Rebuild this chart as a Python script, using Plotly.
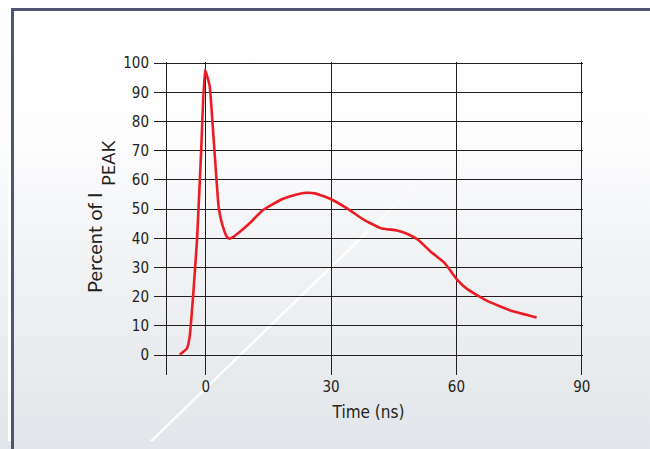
import base64
import plotly.graph_objects as go

# ---- data ----
time_ns = [-6.2, -4.5, -3.85, -3.1, -2.1, -1.1, -0.2, 0.9, 1.9, 3.06, 3.66, 4.35, 5.0,
           5.6, 6.5, 7.8, 10.3, 13.7, 18.2, 21.1, 24.1, 26.1, 30.0, 34.0, 37.9, 41.9,
           45.8, 48.3, 50.8, 53.8, 57.2, 60.2, 62.6, 67.6, 73.5, 79.2]
percent_peak = [0.2, 2.3, 6.5, 19.0, 39.5, 70.2, 97.7, 92.4, 73.6, 50.9, 46.3, 42.9, 40.6,
                39.9, 40.4, 41.8, 44.9, 49.7, 53.4, 54.8, 55.6, 55.4, 53.4, 50.1, 46.3, 43.5,
                42.7, 41.5, 39.5, 35.5, 31.5, 25.8, 22.6, 18.4, 15.0, 12.9]

x_tickvals = [0, 30, 60, 90]
x_ticktext = ["0", "30", "60", "90"]
x_leftline = [-9.3]
y_tickvals = [0, 10, 20, 30, 40, 50, 60, 70, 80, 90, 100]
y_ticktext = [str(v) for v in y_tickvals]

# page body has an 8px margin on every side; size the figure so the page does not overflow
OFF = 8
W, H = 650 - 2 * OFF, 449 - 2 * OFF
L, T = 154 - OFF, 62 - OFF
pw, ph = 429, 313
R, B = W - L - pw, H - T - ph

def px_x(ref_px):  # reference window pixel -> paper x
    return (ref_px - OFF - L) / pw

def px_y(ref_py):  # reference window pixel -> paper y
    return 1 - (ref_py - OFF - T) / ph

frame_col = "#4e5672"
stops = "#ffffff 0%, #fdfdfe 30%, #f0f2f4 60%, #e2e5e9 100%"

# background: white page, light vertical gradient inside the frame, faint diagonal streak
svg = f"""<svg xmlns='http://www.w3.org/2000/svg' width='{W}' height='{H}' viewBox='0 0 {W} {H}'>
<defs>
<linearGradient id='g' x1='0' y1='{-OFF}' x2='0' y2='{H + OFF}' gradientUnits='userSpaceOnUse'>
<stop offset='0' stop-color='#ffffff'/>
<stop offset='0.3' stop-color='#fdfdfe'/>
<stop offset='0.6' stop-color='#f0f2f4'/>
<stop offset='1' stop-color='#e2e5e9'/>
</linearGradient>
<linearGradient id='s' x1='135' y1='441' x2='415' y2='170' gradientUnits='userSpaceOnUse'>
<stop offset='0' stop-color='#ffffff' stop-opacity='0.95'/>
<stop offset='0.8' stop-color='#ffffff' stop-opacity='0.85'/>
<stop offset='1' stop-color='#ffffff' stop-opacity='0'/>
</linearGradient>
</defs>
<rect x='0' y='0' width='{W}' height='{H}' fill='url(#g)'/>
<rect x='0' y='0' width='{W}' height='1' fill='#ffffff'/>
<rect x='0' y='0' width='4' height='{H}' fill='#ffffff'/>
<line x1='135' y1='441' x2='415' y2='170' stroke='url(#s)' stroke-width='2.5'/>
</svg>"""
src = "data:image/svg+xml;base64," + base64.b64encode(svg.encode()).decode()

narrow = "Liberation Sans Narrow, DejaVu Sans Condensed, sans-serif"
ink = "#231f20"

fig = go.Figure()
fig.add_trace(go.Scatter(
    x=time_ns, y=percent_peak, mode="lines",
    line=dict(color="#ec1c24", width=2.6, shape="spline", smoothing=0.4),
    hoverinfo="skip", showlegend=False,
))
fig.add_trace(go.Scatter(x=[], y=[], xaxis="x2", hoverinfo="skip", showlegend=False))

frame_path = (f"M {px_x(12.5)},{px_y(470)} L {px_x(12.5)},{px_y(9.5)} L {px_x(680)},{px_y(9.5)}")

fig.update_layout(
    width=W, height=H,
    margin=dict(l=L, r=R, t=T, b=B),
    paper_bgcolor="rgba(0,0,0,0)",
    plot_bgcolor="rgba(0,0,0,0)",
    images=[dict(source=src, xref="paper", yref="paper",
                 x=-L / pw, y=1 + T / ph, sizex=W / pw, sizey=H / ph,
                 xanchor="left", yanchor="top", sizing="stretch", layer="below")],
    shapes=[dict(type="path", path=frame_path, xref="paper", yref="paper",
                 line=dict(color=frame_col, width=3), layer="below")],
    xaxis=dict(
        range=[-12.4, 90.3], tickvals=x_tickvals, ticktext=x_ticktext,
        showgrid=True, gridcolor=ink, gridwidth=1.3,
        zeroline=False, showline=False, ticks="", ticklabelstandoff=1,
        tickfont=dict(family=narrow, size=15, color=ink),
        title=dict(text="Time (ns)", font=dict(family=narrow, size=17, color=ink), standoff=11),
        fixedrange=True,
    ),
    xaxis2=dict(
        range=[-12.4, 90.3], overlaying="x", tickvals=x_leftline,
        showgrid=True, gridcolor=ink, gridwidth=1.3, showticklabels=False,
        zeroline=False, showline=False, ticks="", fixedrange=True,
    ),
    yaxis=dict(
        range=[-6.8, 100.4], tickvals=y_tickvals, ticktext=y_ticktext,
        showgrid=True, gridcolor=ink, gridwidth=1.3,
        zeroline=False, showline=False, ticks="", ticklabelstandoff=4,
        tickfont=dict(family=narrow, size=15, color=ink),
        fixedrange=True,
    ),
    annotations=[
        dict(text="Percent of I", textangle=-90, showarrow=False,
             xref="paper", yref="paper", x=px_x(94), y=px_y(243),
             xanchor="center", yanchor="middle",
             font=dict(family="Lato, Open Sans, sans-serif", size=20, color=ink)),
        dict(text="PEAK", textangle=-90, showarrow=False,
             xref="paper", yref="paper", x=px_x(108), y=px_y(164),
             xanchor="center", yanchor="middle",
             font=dict(family="Lato, Open Sans, sans-serif", size=18, color=ink)),
    ],
)

# fill the page margin strips (right / bottom) with the same light gradient and frame edges
bg = (f"linear-gradient({frame_col},{frame_col}) 11px 8px / 3px 441px no-repeat, "
      f"linear-gradient({frame_col},{frame_col}) 11px 8px / 639px 3px no-repeat, "
      f"linear-gradient(to bottom, {stops}) no-repeat")
post = (f"document.documentElement.style.background='{bg}';"
        "document.documentElement.style.minHeight='100%';")
fig.write_html("out.html", post_script=post)
